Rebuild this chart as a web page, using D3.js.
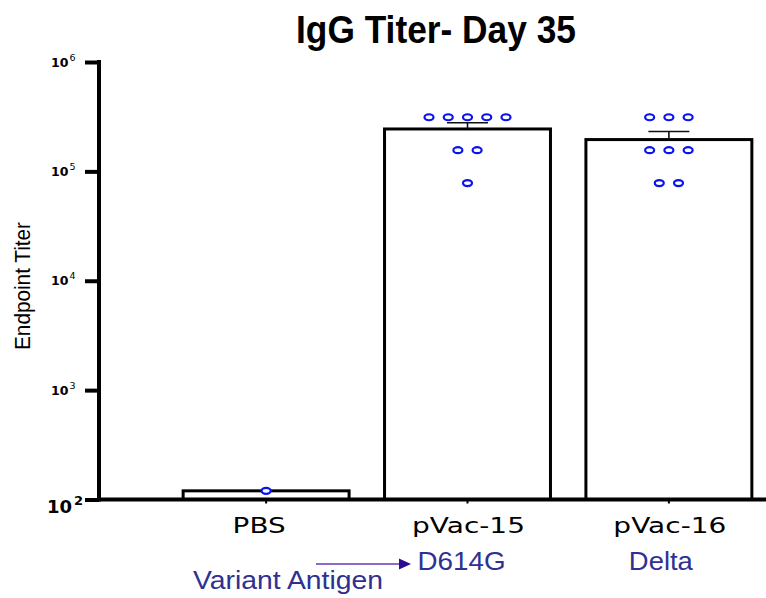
<!DOCTYPE html>
<html>
<head>
<meta charset="utf-8">
<script src="https://cdn.jsdelivr.net/npm/d3@7"></script>
<style>
  html, body { margin: 0; padding: 0; background: #fff; }
  svg { display: block; }
</style>
</head>
<body>
<svg id="chart" width="766" height="598"></svg>
<script>
// Groups on the x axis
const groups = ["PBS", "pVac-15", "pVac-16"];
// Variant antigen for each vaccine group
const antigens = ["", "D614G", "Delta"];
// Individual endpoint titers per animal
const titersPBS = [120];
const titersPVac15 = [312500, 312500, 312500, 312500, 312500, 156250, 156250, 78125];
const titersPVac16 = [312500, 312500, 312500, 156250, 156250, 156250, 78125, 78125];
const titers = [titersPBS, titersPVac15, titersPVac16];
// Log-axis decades
const decades = [2, 3, 4, 5, 6];

const svg = d3.select("#chart");

const y = d3.scaleLog().domain([1e2, 1e6]).range([499.5, 62]);
const x = d3.scaleBand().domain(groups).range([163, 772])
  .paddingInner(0.176).paddingOuter(0.1);
const cx = g => x(g) + x.bandwidth() / 2;

// Summary per group: mean and standard error
const summary = groups.map((g, i) => {
  const v = titers[i];
  const m = d3.mean(v);
  const sd = v.length > 1 ? d3.deviation(v) : 0;
  return { group: g, mean: m, sem: sd / Math.sqrt(v.length) };
});

// Title
svg.append("text")
  .attr("x", 296).attr("y", 43)
  .attr("textLength", 280).attr("lengthAdjust", "spacingAndGlyphs")
  .style("font-family", "'Liberation Sans', Arial, sans-serif")
  .style("font-weight", "bold").style("font-size", "39px")
  .text("IgG Titer- Day 35");

// Y axis label
svg.append("text")
  .attr("transform", "translate(30,286) rotate(-90) scale(1,1.1)")
  .attr("text-anchor", "middle")
  .attr("textLength", 128).attr("lengthAdjust", "spacingAndGlyphs")
  .style("font-family", "'Liberation Sans', Arial, sans-serif")
  .style("font-size", "20px")
  .text("Endpoint Titer");

// Bars
svg.append("g").selectAll("rect").data(summary).join("rect")
  .attr("x", d => x(d.group))
  .attr("y", d => y(d.mean))
  .attr("width", x.bandwidth())
  .attr("height", d => y(1e2) - y(d.mean))
  .attr("fill", "#fff").attr("stroke", "#000").attr("stroke-width", 3);

// Upper error bars (mean + SEM)
const err = svg.append("g").attr("stroke", "#111").attr("stroke-width", 1.6)
  .selectAll("g").data(summary.filter(d => d.sem > 0)).join("g");
err.append("line")
  .attr("x1", d => cx(d.group)).attr("x2", d => cx(d.group))
  .attr("y1", d => y(d.mean)).attr("y2", d => y(d.mean + d.sem));
err.append("line")
  .attr("x1", d => cx(d.group) - 20.5).attr("x2", d => cx(d.group) + 20.5)
  .attr("y1", d => y(d.mean + d.sem)).attr("y2", d => y(d.mean + d.sem));

// Individual points, spread horizontally within each titer level
const pts = [];
groups.forEach((g, i) => {
  const rows = d3.group(titers[i], v => v);
  for (const [val, arr] of rows) {
    arr.forEach((v, k) => {
      pts.push({ x: cx(g) + (k - (arr.length - 1) / 2) * 19.25, v: val });
    });
  }
});
svg.append("g").selectAll("ellipse").data(pts).join("ellipse")
  .attr("cx", d => d.x).attr("cy", d => y(d.v))
  .attr("rx", 4.5).attr("ry", 3)
  .attr("fill", "#fff").attr("stroke", "#0a14f0").attr("stroke-width", 2.2);

// Y axis
const yAxis = svg.append("g").attr("transform", "translate(99,0)")
  .call(d3.axisLeft(y).tickValues(decades.map(e => Math.pow(10, e)))
    .tickSize(14).tickSizeOuter(0).tickFormat(""));
yAxis.select(".domain").attr("stroke", "#000").attr("stroke-width", 4)
  .attr("d", `M0,${y(1e6) - 2}V${y(1e2) + 2}`);
yAxis.selectAll(".tick line").attr("stroke", "#000").attr("stroke-width", 4);

// Decade labels as 10 with superscript exponent
const lab = svg.append("g")
  .style("font-family", "'DejaVu Sans', Verdana, sans-serif")
  .style("font-weight", "bold");
decades.forEach(e => {
  const ty = y(Math.pow(10, e));
  const big = e === 2;
  const t = lab.append("text")
    .attr("x", big ? 47 : 51).attr("y", ty + (big ? 13.5 : 4.5));
  t.append("tspan").style("font-size", big ? "18px" : "12.5px").text("10");
  t.append("tspan").attr("dx", big ? 2 : 1).attr("dy", big ? -8 : -6)
    .style("font-size", big ? "13px" : "9.5px").style("font-weight", big ? "bold" : "normal")
    .text(e);
});

// X axis
const xAxis = svg.append("g").attr("transform", "translate(0,499.5)")
  .call(d3.axisBottom(x).tickSize(4).tickSizeOuter(0).tickFormat(""));
xAxis.select(".domain").attr("stroke", "#000").attr("stroke-width", 4)
  .attr("d", "M97,0H766");
xAxis.selectAll(".tick line").attr("stroke", "#000").attr("stroke-width", 2);

// Group names
const nameWidths = { "PBS": 53, "pVac-15": 113, "pVac-16": 113 };
svg.append("g").selectAll("text").data(groups).join("text")
  .attr("x", (g, i) => cx(g) + (i === 0 ? -7 : 1))
  .attr("y", 533)
  .attr("text-anchor", "middle")
  .attr("textLength", g => nameWidths[g]).attr("lengthAdjust", "spacingAndGlyphs")
  .style("font-family", "'DejaVu Sans', Verdana, sans-serif")
  .style("font-size", "22px").style("fill", "#000")
  .text(g => g);

// Variant antigen annotations
const navy = "#2e3192";
const antWidths = { "D614G": 88, "Delta": 64 };
svg.append("g").selectAll("text").data(groups.map((g, i) => ({ g, a: antigens[i] })).filter(d => d.a))
  .join("text")
  .attr("x", d => cx(d.g) + (d.a === "D614G" ? -6 : -8))
  .attr("y", 570)
  .attr("text-anchor", "middle")
  .attr("textLength", d => antWidths[d.a]).attr("lengthAdjust", "spacingAndGlyphs")
  .style("font-family", "'Liberation Sans', Arial, sans-serif")
  .style("font-size", "25px").style("fill", navy)
  .text(d => d.a);

svg.append("text")
  .attr("x", 193).attr("y", 589)
  .attr("textLength", 190).attr("lengthAdjust", "spacingAndGlyphs")
  .style("font-family", "'Liberation Sans', Arial, sans-serif")
  .style("font-size", "25px").style("fill", navy)
  .text("Variant Antigen");

// Arrow pointing to the antigen row
svg.append("line")
  .attr("x1", 316).attr("x2", 401).attr("y1", 564).attr("y2", 564)
  .attr("stroke", "#8a6cc8").attr("stroke-width", 1.8);
svg.append("path")
  .attr("d", "M399,558.5L411,564L399,569.5Z")
  .attr("fill", "#2d0a8f");
</script>
</body>
</html>
